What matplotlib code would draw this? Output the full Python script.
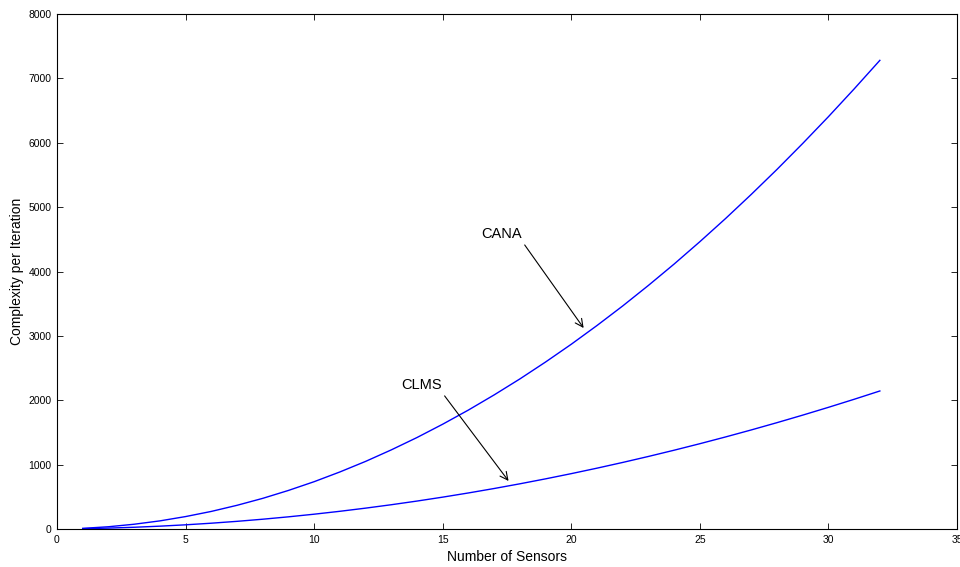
import matplotlib
matplotlib.use("Agg")
import matplotlib.pyplot as plt

plt.rcParams['font.family'] = ['Liberation Sans', 'DejaVu Sans']

# Number of sensors
sensors = list(range(1, 33))

# Complexity per iteration for each algorithm
cana = [10, 35, 74, 126, 193, 273, 368, 476, 599, 735, 886, 1050, 1229, 1421,
        1628, 1848, 2083, 2331, 2594, 2870, 3161, 3465, 3784, 4116, 4463, 4823,
        5198, 5586, 5989, 6405, 6836, 7280]
clms = [5, 14, 27, 44, 65, 90, 119, 152, 189, 230, 275, 324, 377, 434, 495,
        560, 629, 702, 779, 860, 945, 1034, 1127, 1224, 1325, 1430, 1539, 1652,
        1769, 1890, 2015, 2144]

x_ticks = [0, 5, 10, 15, 20, 25, 30, 35]
y_ticks = [0, 1000, 2000, 3000, 4000, 5000, 6000, 7000, 8000]

fig = plt.figure(figsize=(9.6, 5.67), dpi=100)
ax = fig.add_axes([57 / 960, 38 / 567, 900 / 960, 515 / 567])

ax.plot(sensors, cana, color='#0000ff', lw=1.0)
ax.plot(sensors, clms, color='#0000ff', lw=1.0)

ax.set_xlim(0, 35)
ax.set_ylim(0, 8000)
ax.set_xticks(x_ticks)
ax.set_yticks(y_ticks)
ax.tick_params(direction='in', top=True, right=True, length=4, width=0.6,
               labelsize=7.5, pad=4)
for sp in ax.spines.values():
    sp.set_linewidth(0.8)

ax.set_xlabel('Number of Sensors', fontsize=10, labelpad=4)
ax.set_ylabel('Complexity per Iteration', fontsize=10, labelpad=3)

arrow = dict(arrowstyle='->', color='black', lw=0.8, relpos=(1.0, 0.0),
             mutation_scale=14, shrinkA=1, shrinkB=0)
ax.annotate('CANA', xy=(20.48, 3122), xytext=(17.29, 4582),
            ha='center', va='center', fontsize=10.5, arrowprops=arrow)
ax.annotate('CLMS', xy=(17.56, 746), xytext=(14.17, 2237),
            ha='center', va='center', fontsize=10.5, arrowprops=arrow)

fig.savefig('out.png', dpi=100)
